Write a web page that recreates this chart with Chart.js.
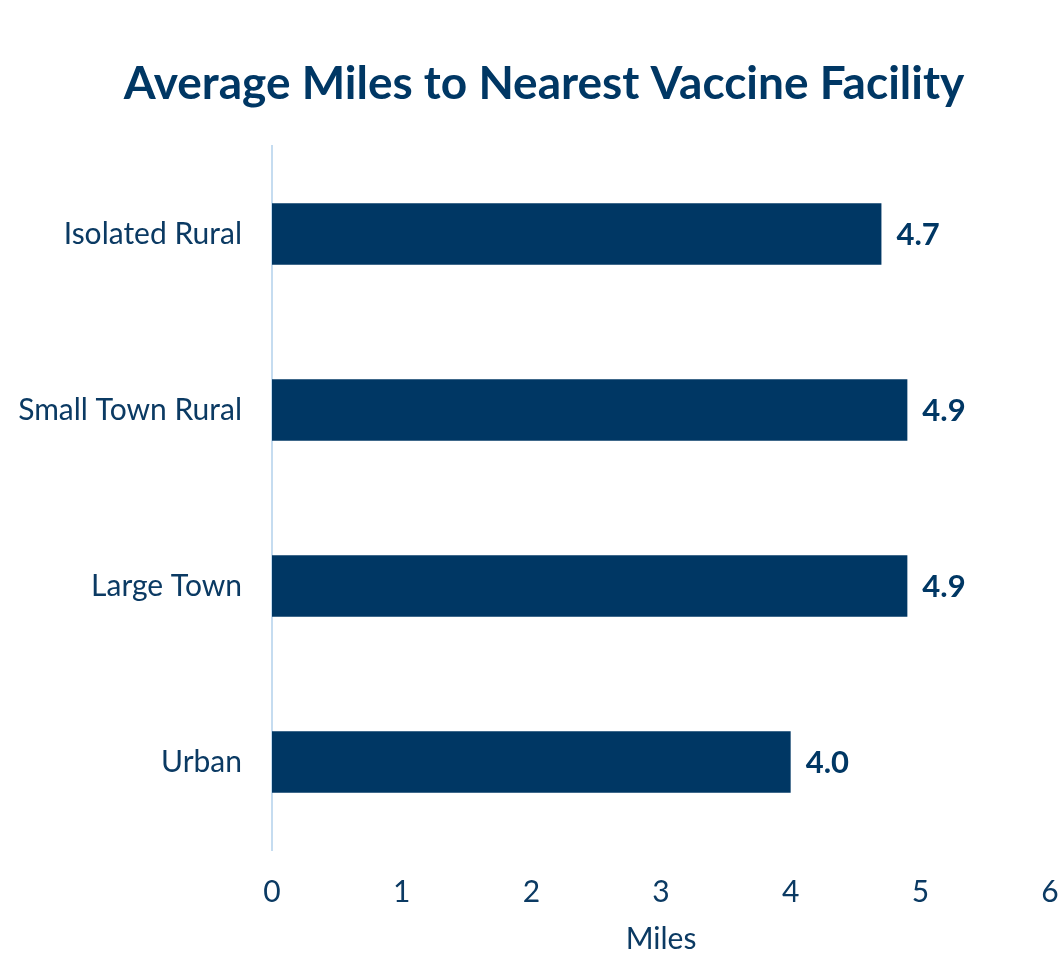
<!DOCTYPE html>
<html>
<head>
<meta charset="utf-8">
<script src="https://cdn.jsdelivr.net/npm/chart.js@4.4.1/dist/chart.umd.min.js"></script>
<style>
  html, body { margin: 0; padding: 0; background: #ffffff; }
  #wrap { width: 1064px; height: 957px; }
</style>
</head>
<body>
<div id="wrap"><canvas id="milesChart"></canvas></div>
<script>
const chartTitle = 'Average Miles to Nearest Vaccine Facility';
const categories = ['Isolated Rural', 'Small Town Rural', 'Large Town', 'Urban'];
const avgMiles = [4.7, 4.9, 4.9, 4.0];
const axisTitle = 'Miles';
const xMin = 0;
const xMax = 6;

const navy = '#003764';
const textNavy = '#0b3a63';
const fontFamily = 'Lato, "Open Sans", sans-serif';

// title drawn centered on the page
const titlePlugin = {
    id: 'pageTitle',
    afterDraw: (chart) => {
        const ctx = chart.ctx;
        ctx.save();
        ctx.font = 'bold 46px ' + fontFamily;
        ctx.fillStyle = navy;
        ctx.textAlign = 'center';
        ctx.textBaseline = 'middle';
        ctx.fillText(chartTitle, 544, 84);
        ctx.restore();
    }
};

// value labels just past the end of each bar
const valueLabels = {
    id: 'valueLabels',
    afterDatasetsDraw: (chart) => {
        const ctx = chart.ctx;
        const meta = chart.getDatasetMeta(0);
        ctx.save();
        ctx.font = 'bold 31px ' + fontFamily;
        ctx.fillStyle = navy;
        ctx.textAlign = 'left';
        ctx.textBaseline = 'middle';
        meta.data.forEach((bar, i) => {
            ctx.fillText(avgMiles[i].toFixed(1), bar.x + 15, bar.y + 1);
        });
        ctx.restore();
    }
};

new Chart(document.getElementById('milesChart'), {
    type: 'bar',
    data: {
        labels: categories,
        datasets: [{
            data: avgMiles,
            backgroundColor: navy,
            borderWidth: 0,
            barPercentage: 0.7,
            categoryPercentage: 0.5
        }]
    },
    options: {
        indexAxis: 'y',
        responsive: true,
        maintainAspectRatio: false,
        animation: false,
        layout: {
            padding: { top: 146, right: 14, bottom: 0, left: 0 }
        },
        plugins: {
            legend: { display: false },
            tooltip: { enabled: false },
            title: { display: false }
        },
        scales: {
            x: {
                min: xMin,
                max: xMax,
                grid: { display: false, drawTicks: false },
                border: { display: false },
                ticks: {
                    stepSize: 1,
                    padding: 24,
                    color: textNavy,
                    font: { family: fontFamily, size: 30 }
                },
                title: {
                    display: true,
                    text: axisTitle,
                    color: textNavy,
                    font: { family: fontFamily, size: 30 },
                    padding: { top: 0, bottom: 0 }
                },
                afterFit: (scale) => {
                    scale.height = 107;
                    scale.paddingLeft = 0;
                    scale.paddingRight = 0;
                }
            },
            y: {
                grid: { display: false, drawTicks: false },
                border: { display: true, color: '#c5dcf0', width: 2 },
                ticks: {
                    padding: 30,
                    color: textNavy,
                    font: { family: fontFamily, size: 30 }
                },
                afterFit: (scale) => { scale.width = 272; }
            }
        }
    },
    plugins: [titlePlugin, valueLabels]
});
</script>
</body>
</html>
